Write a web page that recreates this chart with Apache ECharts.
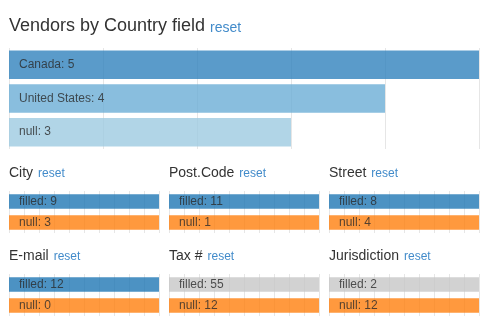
<!DOCTYPE html>
<html>
<head>
<meta charset="utf-8">
<script src="https://cdn.jsdelivr.net/npm/echarts@6/dist/echarts.min.js"></script>
<style>
html,body{margin:0;padding:0;background:#fff;}
#chart{width:489px;height:331px;}
</style>
</head>
<body>
<div id="chart"></div>
<script>
// ---- data ----
const countryNames = ['Canada', 'United States', 'null'];
const countryCounts = [5, 4, 3];
const mainTicks = [0, 1, 2, 3, 4, 5];

const fieldNames = ['City', 'Post.Code', 'Street', 'E-mail', 'Tax #', 'Jurisdiction'];
const rowLabels = ['filled', 'null'];
const filledCounts = [9, 11, 8, 12, 55, 2];
const nullCounts = [3, 1, 4, 0, 12, 12];
// small charts use the default d3 domain [0, 1] with ten tick steps
const smallDomain = [0, 1];

// ---- styles ----
const FONT = 'Liberation Sans, Arial, Helvetica, sans-serif';
const mainColors = ['#3182bd', '#6baed6', '#9ecae1'];
const filledColors = ['#1f77b4', '#1f77b4', '#1f77b4', '#1f77b4', '#c7c7c7', '#c7c7c7'];
const nullColor = '#ff7f0e';
const gridLineColor = '#e6e6e6';
const labelColor = '#2a2a2a';

const titles = [];
const grids = [];
const xAxes = [];
const yAxes = [];
const series = [];

// main title
titles.push({
  left: 9, top: 13, padding: 0,
  text: '{t|Vendors by Country field} {r|reset}',
  textStyle: {
    fontWeight: 'normal',
    rich: {
      t: {fontSize: 18, color: '#333', fontFamily: FONT, fontWeight: 'normal', lineHeight: 22, verticalAlign: 'bottom'},
      r: {fontSize: 14, color: '#428bca', fontFamily: FONT, fontWeight: 'normal', lineHeight: 22, verticalAlign: 'bottom'}
    }
  }
});

grids.push({left: 9, width: 470, top: 48, height: 101});
xAxes.push({
  gridIndex: 0, type: 'value', min: mainTicks[0], max: mainTicks[mainTicks.length - 1], interval: 1,
  axisLabel: {show: false}, axisLine: {show: false}, axisTick: {show: false},
  splitLine: {show: true, lineStyle: {color: gridLineColor, width: 1}}
});
yAxes.push({
  gridIndex: 0, type: 'category', inverse: true, data: countryNames,
  axisLabel: {show: false}, axisLine: {show: false}, axisTick: {show: false}, splitLine: {show: false}
});
series.push({
  type: 'bar', xAxisIndex: 0, yAxisIndex: 0, barWidth: 28.5,
  data: countryCounts.map((v, i) => ({value: v, itemStyle: {color: mainColors[i], opacity: 0.8}})),
  label: {
    show: true, position: 'insideLeft', distance: 10, color: labelColor, fontSize: 12, fontFamily: FONT,
    formatter: p => countryNames[p.dataIndex] + ': ' + p.value
  }
});

// small charts
const colLeft = [9, 169, 329];
const rowTitleTop = [162, 245];
const rowGridTop = [191, 274];
fieldNames.forEach((name, i) => {
  const col = i % 3, row = Math.floor(i / 3);
  const gi = i + 1;
  titles.push({
    left: colLeft[col], top: rowTitleTop[row], padding: 0,
    text: '{t|' + name + '} {r|reset}',
    textStyle: {
      fontWeight: 'normal',
      rich: {
        t: {fontSize: 14, color: '#333', fontFamily: FONT, fontWeight: 'normal', lineHeight: 17, verticalAlign: 'bottom'},
        r: {fontSize: 12, color: '#428bca', fontFamily: FONT, fontWeight: 'normal', lineHeight: 17, verticalAlign: 'bottom'}
      }
    }
  });
  grids.push({left: colLeft[col], width: 150, top: rowGridTop[row], height: 42});
  xAxes.push({
    gridIndex: gi, type: 'value', min: smallDomain[0], max: smallDomain[1], interval: 0.1,
    axisLabel: {show: false}, axisLine: {show: false}, axisTick: {show: false},
    splitLine: {show: true, lineStyle: {color: gridLineColor, width: 1}}
  });
  yAxes.push({
    gridIndex: gi, type: 'category', inverse: true, data: rowLabels,
    axisLabel: {show: false}, axisLine: {show: false}, axisTick: {show: false}, splitLine: {show: false}
  });
  const vals = [filledCounts[i], nullCounts[i]];
  series.push({
    type: 'bar', xAxisIndex: gi, yAxisIndex: gi, barWidth: 14.7, barMinHeight: 150, clip: true,
    data: vals.map((v, k) => ({
      value: v,
      itemStyle: {color: k === 0 ? filledColors[i] : nullColor, opacity: 0.8}
    })),
    label: {
      show: true, position: 'insideLeft', distance: 10, color: labelColor, fontSize: 12, fontFamily: FONT,
      formatter: p => rowLabels[p.dataIndex] + ': ' + p.value
    }
  });
});

const chart = echarts.init(document.getElementById('chart'), null, {renderer: 'canvas'});
chart.setOption({
  animation: false,
  title: titles,
  grid: grids,
  xAxis: xAxes,
  yAxis: yAxes,
  series: series
});
</script>
</body>
</html>
